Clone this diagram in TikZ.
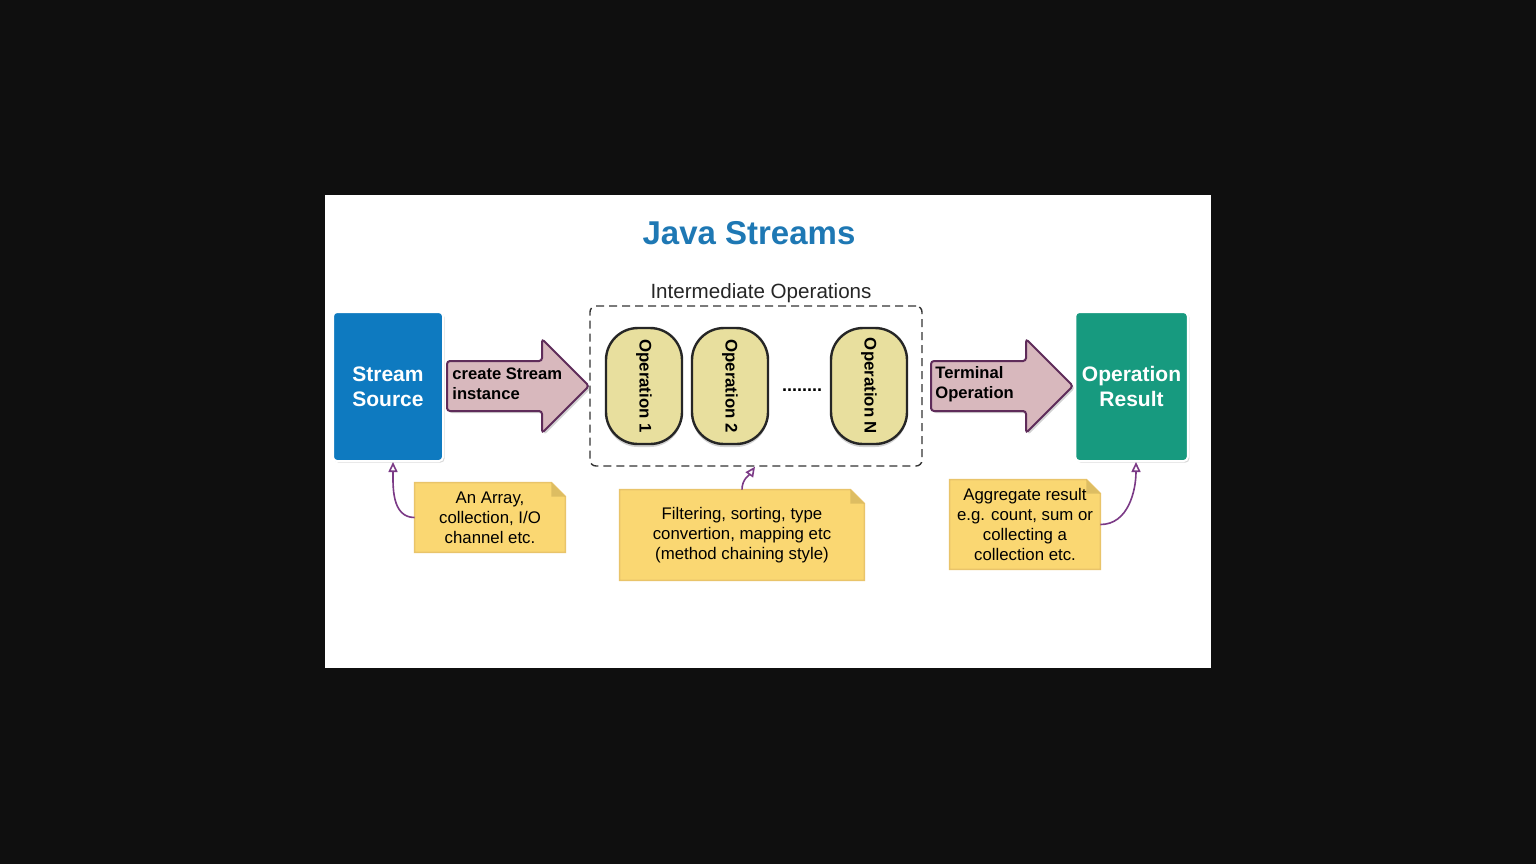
\documentclass[tikz,border=0pt]{standalone}
\usepackage{fontspec}
\setmainfont{Liberation Sans}
\usepackage{xcolor}
\usetikzlibrary{shapes.arrows,shadows,arrows.meta,backgrounds}
\definecolor{bgdark}{HTML}{0F0F0F}
\definecolor{titleblue}{HTML}{1E78B4}
\definecolor{srcblue}{HTML}{0E7AC0}
\definecolor{restea}{HTML}{179A7F}
\definecolor{arrowfill}{HTML}{D8B8BD}
\definecolor{arrowline}{HTML}{5F2C5A}
\definecolor{opfill}{HTML}{E8DF9E}
\definecolor{notefill}{HTML}{FAD772}
\definecolor{noteline}{HTML}{E9C46A}
\definecolor{notefold}{HTML}{DDBD62}
\definecolor{callline}{HTML}{7B3A86}
\tikzset{
  bigbox/.style={draw=white,line width=1pt,rounded corners=2pt,minimum width=55pt,minimum height=74.5pt,text=white,align=center,font=\fontsize{10.5}{12.5}\selectfont\bfseries,drop shadow={opacity=0.3,shadow xshift=0.8pt,shadow yshift=-0.8pt}},
  flowarrow/.style={single arrow,draw=arrowline,fill=arrowfill,line width=1pt,minimum height=71pt,inner xsep=0pt,inner ysep=12pt,single arrow head extend=11pt,single arrow head indent=0pt,rounded corners=1.5pt,drop shadow={opacity=0.35,shadow xshift=1pt,shadow yshift=-1pt}},
  arrowtext/.style={anchor=west,align=left,inner sep=0pt,font=\fontsize{8.3}{10}\selectfont\bfseries},
  opbox/.style={draw=black!85,line width=1.2pt,fill=opfill,rounded corners=16pt,minimum width=58pt,minimum height=38pt,rotate=-90,font=\fontsize{8.4}{10}\selectfont\bfseries,drop shadow={opacity=0.35,shadow xshift=0pt,shadow yshift=-1.5pt}},
  note/.style={align=center,inner sep=0pt,font=\fontsize{8.4}{10}\selectfont},
  callout/.style={draw=callline,line width=0.8pt,-{Triangle[open,length=5pt,width=4.5pt]}}
}
\newcommand{\notepaper}[1]{%
  \fill[black,opacity=0.12,shift={(1pt,-1.5pt)}] (#1.south west) -- (#1.north west) -- ([xshift=-7pt]#1.north east) -- ([yshift=-7pt]#1.north east) -- (#1.south east) -- cycle;
  \filldraw[fill=notefill,draw=noteline,line width=0.8pt] (#1.south west) -- (#1.north west) -- ([xshift=-7pt]#1.north east) -- ([yshift=-7pt]#1.north east) -- (#1.south east) -- cycle;
  \fill[notefold] ([xshift=-7pt]#1.north east) -- ([xshift=-7pt,yshift=-7pt]#1.north east) -- ([yshift=-7pt]#1.north east) -- cycle;}

\begin{document}
\begin{tikzpicture}[x=0.5pt,y=0.5pt]
  \node[font=\fontsize{16.5}{20}\selectfont\bfseries,text=titleblue] (title) at (749,-233) {Java Streams};

  % source and result
  \node[bigbox,fill=srcblue] (src) at (388,-386.5) {Stream\\Source};
  \node[bigbox,fill=restea,minimum width=55.5pt] (res) at (1131.5,-386.5) {Operation\\Result};

  % intermediate operations
  \node[draw=black!80,line width=0.7pt,dash pattern=on 4pt off 2.5pt,rounded corners=3pt,minimum width=166pt,minimum height=80pt] (interbox) at (756,-386) {};
  \node[font=\fontsize{10.3}{12}\selectfont,text=black!85] (interlabel) at (761,-293) {Intermediate Operations};
  \node[opbox] (op1) at (644,-386) {Operation 1};
  \node[opbox] (op2) at (730,-386) {Operation 2};
  \node[font=\fontsize{9}{10}\selectfont\bfseries] (dots) at (802,-390) {........};
  \node[opbox] (opN) at (869,-386) {Operation N};

  % big arrows
  \node[flowarrow,anchor=west] (mkarrow) at (446,-386) {};
  \node[arrowtext] (mktext) at (452,-384) {create Stream\\instance};
  \node[flowarrow,anchor=west] (termarrow) at (930,-386) {};
  \node[arrowtext] (termtext) at (935,-384) {Terminal\\Operation};

  % notes
  \node[note,minimum width=75pt,minimum height=34.5pt] (note1) at (490,-517.5) {An Array,\\collection, I/O\\channel etc.};
  \node[note,minimum width=122pt,minimum height=45pt] (note2) at (742,-535) {Filtering, sorting, type\\convertion, mapping etc\\(method chaining style)};
  \node[note,minimum width=75pt,minimum height=44.5pt] (note3) at (1025,-524.5) {Aggregate result\\e.g. count, sum or\\collecting a\\collection etc.};
  \begin{scope}[on background layer]
    \fill[bgdark] (0,0) rectangle (1536,-864);
    \fill[white] (325,-195) rectangle (1211,-668);
    \notepaper{note1}
    \notepaper{note2}
    \notepaper{note3}
  \end{scope}

  \draw[callout] (note1.west) to[out=180,in=-90] ([xshift=2.5pt]src.south);
  \draw[callout] (note2.north) to[out=90,in=-125] ([xshift=-0.5pt]interbox.south);
  \draw[callout] (note3.east) to[out=0,in=-90] ([xshift=2.25pt]res.south);
\end{tikzpicture}
\end{document}
